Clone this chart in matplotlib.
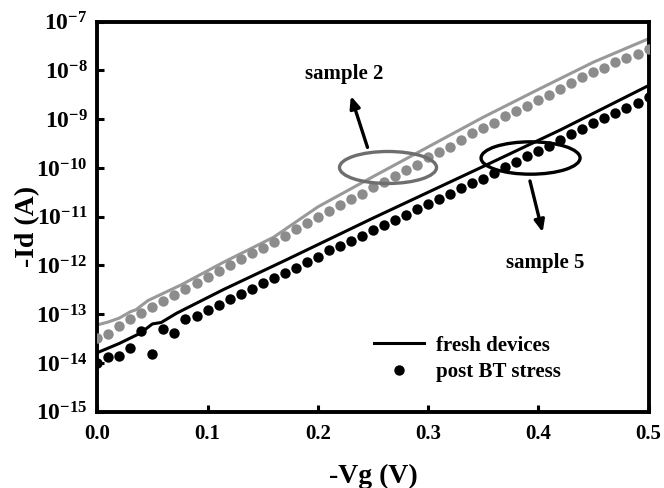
import numpy as np
import matplotlib
matplotlib.use("Agg")
import matplotlib.pyplot as plt
from matplotlib.patches import Ellipse
from matplotlib.lines import Line2D
from matplotlib.ticker import FixedLocator, FixedFormatter

plt.rcParams['font.family'] = ['Liberation Serif', 'DejaVu Serif']
plt.rcParams['font.weight'] = 'bold'
plt.rcParams['mathtext.fontset'] = 'custom'
plt.rcParams['mathtext.rm'] = 'Liberation Serif:bold'
plt.rcParams['mathtext.bf'] = 'Liberation Serif:bold'
plt.rcParams['mathtext.it'] = 'Liberation Serif:bold'

# gate voltage of the measured points (V)
vg = np.arange(0, 51) * 0.01

# log10(-Id)
log_s2_post = [-13.49, -13.40, -13.24, -13.10, -12.98, -12.86, -12.72, -12.61, -12.48, -12.35,
               -12.24, -12.11, -11.99, -11.87, -11.75, -11.645, -11.51, -11.39, -11.25, -11.13,
               -11.01, -10.88, -10.77, -10.64, -10.53, -10.40, -10.29, -10.175, -10.05, -9.93,
               -9.785, -9.67, -9.56, -9.42, -9.28, -9.18, -9.07, -8.94, -8.825, -8.72,
               -8.61, -8.50, -8.38, -8.26, -8.14, -8.03, -7.94, -7.83, -7.74, -7.655,
               -7.56]
log_s5_post = [-14.00, -13.88, -13.86, -13.69, -13.34, -13.82, -13.30, -13.39, -13.10, -13.03,
               -12.91, -12.81, -12.69, -12.58, -12.49, -12.36, -12.26, -12.16, -12.06, -11.93,
               -11.82, -11.69, -11.60, -11.495, -11.39, -11.28, -11.18, -11.06, -10.96, -10.84,
               -10.74, -10.63, -10.54, -10.41, -10.31, -10.22, -10.10, -9.98, -9.87, -9.75,
               -9.65, -9.54, -9.42, -9.30, -9.20, -9.08, -8.98, -8.87, -8.77, -8.67,
               -8.55]

# fresh device curves
vg_s2_fresh = [0, 0.01, 0.02, 0.03, 0.035, 0.046, 0.06, 0.076, 0.114, 0.16, 0.2, 0.25, 0.3, 0.35, 0.4, 0.45, 0.5]
log_s2_fresh = [-13.22, -13.16, -13.08, -12.95, -12.91, -12.72, -12.57, -12.40, -11.94, -11.42,
                -10.80, -10.18, -9.57, -8.96, -8.39, -7.83, -7.35]
vg_s5_fresh = [0, 0.02, 0.039, 0.05, 0.058, 0.072, 0.114, 0.171, 0.25, 0.35, 0.42, 0.5]
log_s5_fresh = [-13.79, -13.60, -13.39, -13.20, -13.17, -12.98, -12.50, -11.89, -11.03, -9.97, -9.22, -8.31]

y_ticks = [1e-15, 1e-14, 1e-13, 1e-12, 1e-11, 1e-10, 1e-9, 1e-8, 1e-7]
y_labels = [r'$\mathbf{10^{-%d}}$' % k for k in range(15, 6, -1)]
x_ticks = [0.0, 0.1, 0.2, 0.3, 0.4, 0.5]

gray = '#8c8c8c'

fig = plt.figure(figsize=(6.64, 4.88), dpi=100)
ax = fig.add_axes([0.1465, 0.1564, 0.8302, 0.7991])

ax.plot(vg_s2_fresh, 10.0 ** np.array(log_s2_fresh), color='#999999', lw=2.2, zorder=2)
ax.plot(vg, 10.0 ** np.array(log_s2_post), 'o', color=gray, ms=7.5, mew=0, zorder=3)
ax.plot(vg_s5_fresh, 10.0 ** np.array(log_s5_fresh), color='black', lw=2.2, zorder=2)
ax.plot(vg, 10.0 ** np.array(log_s5_post), 'o', color='black', ms=7.5, mew=0, zorder=3)

ax.set_yscale('log')
ax.set_xlim(0, 0.5)
ax.set_ylim(1e-15, 1e-7)
ax.yaxis.set_major_locator(FixedLocator(y_ticks))
ax.yaxis.set_major_formatter(FixedFormatter(y_labels))
ax.yaxis.set_minor_locator(FixedLocator([]))
ax.set_xticks(x_ticks)
ax.set_xticklabels(['%.1f' % v for v in x_ticks])
ax.tick_params(direction='in', length=5, width=2.2, labelsize=15, pad=9)
ax.tick_params(axis='y', pad=7, labelsize=17)
for lab in ax.get_xticklabels() + ax.get_yticklabels():
    lab.set_fontweight('bold')
for s in ax.spines.values():
    s.set_linewidth(2.8)

ax.set_xlabel('-Vg (V)', fontsize=20, fontweight='bold')
ax.set_ylabel('-Id (A)', fontsize=20, fontweight='bold')
ax.xaxis.set_label_coords(0.5, -0.135)
ax.yaxis.set_label_coords(-0.103, 0.476)

# annotations
ax.add_patch(Ellipse((0.5274, 0.6262), 0.176, 0.082, transform=ax.transAxes,
                     fill=False, ec='#6e6e6e', lw=2.4, zorder=4))
ax.add_patch(Ellipse((0.786, 0.6505), 0.1796, 0.083, transform=ax.transAxes,
                     fill=False, ec='black', lw=2.4, zorder=4))
ax.annotate('', xy=(0.4585, 0.8164), xytext=(0.4917, 0.671), xycoords='axes fraction',
            arrowprops=dict(arrowstyle='-|>,head_length=0.7,head_width=0.3', color='black', lw=2.4))
ax.annotate('', xy=(0.8091, 0.4531), xytext=(0.7837, 0.5985), xycoords='axes fraction',
            arrowprops=dict(arrowstyle='-|>,head_length=0.7,head_width=0.3', color='black', lw=2.4))
ax.text(0.4485, 0.8672, 'sample 2', transform=ax.transAxes, fontsize=15,
        fontweight='bold', ha='center', va='center')
ax.text(0.8122, 0.38, 'sample 5', transform=ax.transAxes, fontsize=15,
        fontweight='bold', ha='center', va='center')

handles = [Line2D([], [], color='black', lw=2.2),
           Line2D([], [], ls='none', marker='o', color='black', ms=7.5, mew=0)]
ax.legend(handles, ['fresh devices', 'post BT stress'], loc='center left',
          bbox_to_anchor=(0.502, 0.1355), frameon=False, borderpad=0, borderaxespad=0,
          handlelength=2.4, handletextpad=0.56, labelspacing=0.3,
          prop={'family': 'Liberation Serif', 'weight': 'bold', 'size': 15})

fig.savefig('out.png', dpi=100)
